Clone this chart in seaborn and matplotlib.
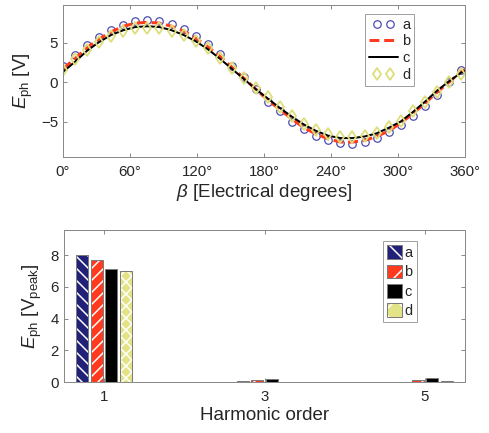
import numpy as np
import pandas as pd
import matplotlib
matplotlib.use("Agg")
import matplotlib.pyplot as plt
import seaborn as sns
from matplotlib.patches import Patch
from matplotlib.lines import Line2D
from matplotlib.legend_handler import HandlerLine2D

# ---------------- data ----------------
beta = [0, 10.8, 21.6, 32.4, 43.2, 54, 64.8, 75.6, 86.4, 97.2, 108, 118.8,
        129.6, 140.4, 151.2, 162, 172.8, 183.6, 194.4, 205.2, 216, 226.8,
        237.6, 248.4, 259.2, 270, 280.8, 291.6, 302.4, 313.2, 324, 334.8,
        345.6, 356.4]
beta_line = beta + [360]

series_a = [2.0, 3.5, 4.7, 5.8, 6.6, 7.3, 7.8, 7.9, 7.8, 7.4, 6.8, 5.9,
            4.8, 3.6, 2.1, 0.6, -0.9, -2.5, -3.7, -5.0, -6.0, -6.8,
            -7.4, -7.7, -7.8, -7.6, -7.1, -6.3, -5.5, -4.3, -3.0, -1.6,
            0.0, 1.6]
series_b = [1.7, 3.0, 4.4, 5.5, 6.4, 7.1, 7.5, 7.6, 7.5, 7.1, 6.5, 5.6,
            4.5, 3.3, 1.9, 0.5, -0.9, -2.3, -3.5, -4.7, -5.8, -6.6,
            -7.2, -7.6, -7.6, -7.4, -6.9, -6.2, -5.2, -4.0, -2.7, -1.3,
            0.0, 1.3, 1.6]
series_c = [1.3, 2.6, 4.0, 5.1, 6.0, 6.6, 7.0, 7.1, 7.0, 6.6, 6.0, 5.2,
            4.2, 3.0, 1.7, 0.4, -0.9, -2.1, -3.3, -4.4, -5.4, -6.2,
            -6.8, -7.1, -7.1, -6.9, -6.5, -5.8, -5.0, -3.8, -2.5, -1.1,
            0.1, 1.2, 1.4]
series_d = [1.6, 2.9, 4.1, 5.1, 5.9, 6.5, 6.9, 6.9, 6.9, 6.5, 6.0, 5.2,
            4.3, 3.1, 1.8, 0.5, -0.7, -1.9, -3.1, -4.3, -5.3, -6.1,
            -6.6, -6.9, -6.9, -6.8, -6.4, -5.7, -4.9, -3.7, -2.5, -1.2,
            0.0, 1.1]

beta_ticks = [0, 60, 120, 180, 240, 300, 360]
beta_ticklabels = ["0°", "60°", "120°", "180°", "240°", "300°", "360°"]

harmonics = [1, 3, 5]
series_names = ["a", "b", "c", "d"]
bar_a = [8.02, 0.04, 0.02]
bar_b = [7.70, 0.12, 0.15]
bar_c = [7.12, 0.18, 0.25]
bar_d = [7.02, 0.01, 0.05]

# ---------------- style ----------------
sns.set_theme(style="white")
DPI = 72
GREY = "#8a8a8a"
TXT = "#262626"
plt.rcParams.update({
    "font.family": ["Liberation Sans", "DejaVu Sans"],
    "mathtext.fontset": "custom",
    "mathtext.rm": "Liberation Sans",
    "mathtext.it": "Liberation Sans:italic",
    "axes.edgecolor": GREY,
    "axes.linewidth": 1.0,
    "xtick.direction": "in",
    "ytick.direction": "in",
    "xtick.top": True,
    "ytick.right": True,
    "xtick.bottom": True,
    "ytick.left": True,
    "xtick.color": GREY,
    "ytick.color": GREY,
    "xtick.labelcolor": TXT,
    "ytick.labelcolor": TXT,
    "xtick.major.size": 4,
    "ytick.major.size": 4,
    "xtick.major.width": 1.0,
    "ytick.major.width": 1.0,
    "xtick.labelsize": 15,
    "ytick.labelsize": 15,
    "axes.labelsize": 18.8,
    "axes.labelcolor": TXT,
    "hatch.linewidth": 1.5,
})

fig = plt.figure(figsize=(489 / DPI, 433 / DPI), dpi=DPI)
fig.patch.set_facecolor("white")
ax1 = fig.add_axes([63 / 489, 1 - 157 / 433, 402 / 489, 152 / 433])
ax2 = fig.add_axes([64 / 489, 1 - 382 / 433, 401 / 489, 152 / 433])

C_A = "#4646b0"
C_B = "#ff3a1e"
C_C = "#000000"
C_D = "#dede7a"

# ---------------- top panel ----------------
sns.lineplot(x=beta_line, y=series_b, ax=ax1, color=C_B, linewidth=3,
             errorbar=None, sort=False, dashes=False)
ax1.get_lines()[-1].set_dashes([3.3, 1.6])
sns.lineplot(x=beta_line, y=series_c, ax=ax1, color=C_C, linewidth=2,
             errorbar=None, sort=False)
sns.lineplot(x=beta, y=series_a, ax=ax1, color=C_A, linestyle="",
             marker="o", markersize=7.5, markerfacecolor="none",
             markeredgecolor=C_A, markeredgewidth=1.2, errorbar=None, sort=False)
sns.lineplot(x=beta, y=series_d, ax=ax1, color=C_D, linestyle="",
             marker="d", markersize=9, markerfacecolor="none",
             markeredgecolor=C_D, markeredgewidth=1.8, errorbar=None, sort=False)

lines = ax1.get_lines()
line_b, line_c, line_a, line_d = lines[0], lines[1], lines[2], lines[3]
line_a.set_zorder(1.5)
line_d.set_zorder(2.5)
line_b.set_zorder(2.2)
line_c.set_zorder(2.4)

ax1.set_xlim(0, 360)
ax1.set_ylim(-9.5, 9.8)
ax1.set_xticks(beta_ticks)
ax1.set_xticklabels(beta_ticklabels)
ax1.set_yticks([-5, 0, 5])
ax1.set_xlabel(r"$\beta$ [Electrical degrees]", labelpad=3)
ax1.set_ylabel(r"$E_{\mathrm{ph}}$ [V]", labelpad=6)
ax1.tick_params(axis="x", pad=8)
ax1.tick_params(axis="y", pad=5)
for s in ax1.spines.values():
    s.set_visible(True)
    s.set_color(GREY)

hm = HandlerLine2D(numpoints=2, marker_pad=0.55)
leg1 = ax1.legend([line_a, line_b, line_c, line_d], series_names,
                  loc="upper right", bbox_to_anchor=(0.873, 0.941),
                  borderaxespad=0, frameon=True, fancybox=False,
                  edgecolor=GREY, fontsize=14.5, handlelength=2.0,
                  handletextpad=0.3, labelspacing=0.2, borderpad=0.25,
                  handler_map={line_a: hm, line_d: hm})
leg1.get_frame().set_linewidth(1.0)
for t in leg1.get_texts():
    t.set_color(TXT)

# ---------------- bottom panel ----------------
df = pd.DataFrame({
    "harmonic": harmonics * 4,
    "value": bar_a + bar_b + bar_c + bar_d,
    "series": sum([[n] * len(harmonics) for n in series_names], []),
})
bar_colors = ["#21217a", "#ff3a1e", "#000000", "#e3e388"]
hatches = ["\\\\", "//", "", "xx"]
sns.barplot(data=df, x="harmonic", y="value", hue="series", native_scale=True,
            width=0.36, gap=0.17, palette=bar_colors, saturation=1,
            edgecolor="#7a7a7a", linewidth=1.0, errorbar=None, legend=False,
            ax=ax2)


def white_hatch(p, h):
    p.set_hatch(h)
    if hasattr(p, "set_hatchcolor"):
        p.set_hatchcolor("white")
    else:
        p._hatch_color = (1, 1, 1, 1)


for cont, h in zip(ax2.containers, hatches):
    for p in cont.patches:
        if h:
            white_hatch(p, h)

ax2.set_xlim(0.5, 5.5)
ax2.set_ylim(0, 9.6)
ax2.set_xticks(harmonics)
ax2.set_xticklabels([str(h) for h in harmonics])
ax2.set_yticks([0, 2, 4, 6, 8])
ax2.set_xlabel("Harmonic order", labelpad=3)
ax2.set_ylabel(r"$E_{\mathrm{ph}}$ [V$_{\mathrm{peak}}$]", labelpad=6)
ax2.tick_params(axis="x", pad=8)
ax2.tick_params(axis="y", pad=5)
for s in ax2.spines.values():
    s.set_visible(True)
    s.set_color(GREY)

handles = []
for col, h in zip(bar_colors, hatches):
    ph = Patch(facecolor=col, edgecolor="#7a7a7a", linewidth=1.0)
    if h:
        white_hatch(ph, h[0])
    handles.append(ph)
leg2 = ax2.legend(handles, series_names, loc="upper right",
                  bbox_to_anchor=(0.880, 0.928), borderaxespad=0,
                  frameon=True, fancybox=False, edgecolor=GREY, fontsize=14.5,
                  handlelength=1.0, handleheight=1.1, handletextpad=0.2,
                  labelspacing=0.3, borderpad=0.3)
leg2.get_frame().set_linewidth(1.0)
for t in leg2.get_texts():
    t.set_color(TXT)

fig.savefig("out.png", dpi=DPI, facecolor="white")
